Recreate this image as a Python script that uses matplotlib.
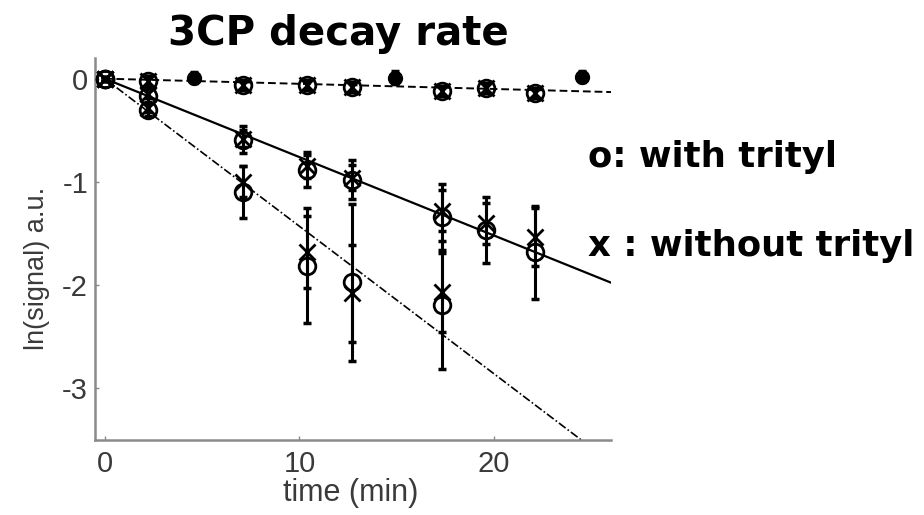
import matplotlib
matplotlib.use("Agg")
import matplotlib.pyplot as plt
import numpy as np

plt.rcParams['font.family'] = ['Liberation Sans', 'DejaVu Sans']

# ---- data ----
t = [0, 2.2, 7.1, 10.4, 12.7, 17.3, 19.6, 22.1]
t_low = [0, 2.2, 7.1, 10.4, 12.7, 17.3]
t_dots = [4.6, 14.9, 24.5]

ref_o = [0, -0.02, -0.06, -0.06, -0.08, -0.12, -0.09, -0.14]
ref_x = [0, -0.02, -0.06, -0.06, -0.08, -0.12, -0.09, -0.14]
ref_err = [0.02, 0.05, 0.05, 0.05, 0.05, 0.05, 0.05, 0.05]
dots_y = [0.01, 0.01, 0.02]
dots_err = [0.05, 0.06, 0.05]

mid_o = [0, -0.17, -0.59, -0.88, -0.98, -1.34, -1.47, -1.68]
mid_x = [0, -0.15, -0.58, -0.85, -0.96, -1.28, -1.40, -1.53]
mid_err = [0.02, 0.06, 0.13, 0.17, 0.19, 0.32, 0.32, 0.45]
mid_err_x = [0.02, 0.04, 0.08, 0.11, 0.12, 0.20, 0.20, 0.28]

low_o = [0, -0.30, -1.10, -1.81, -1.97, -2.19]
low_x = [0, -0.28, -1.00, -1.68, -2.08, -2.07]
low_err = [0.02, 0.06, 0.25, 0.56, 0.76, 0.62]
low_err_x = [0.02, 0.04, 0.15, 0.35, 0.47, 0.38]

slope_ref = -0.005
slope_with = -0.076
slope_without = -0.143
t_fit = [0, 26]

xticks = [0, 10, 20]
yticks = [0, -1, -2, -3]

# ---- figure ----
W, H = 924, 515
fig = plt.figure(figsize=(W / 100, H / 100), dpi=100)
ax = fig.add_axes([95 / W, 1 - 440 / H, (611 - 95) / W, (440 - 58) / H])

tf = np.array(t_fit)
ax.plot(tf, slope_ref * tf, color='k', lw=1.4, ls=(0, (4, 2)), zorder=1)
ax.plot(tf, slope_with * tf, color='k', lw=1.6, ls='-', zorder=1)
ax.plot(tf, slope_without * tf, color='k', lw=1.2, ls=(0, (5, 1.5, 1, 1.5)), zorder=1)

ekw = dict(fmt='none', ecolor='k', elinewidth=2.2, capsize=3, capthick=2.5, zorder=2)
for tt, yy, ee in [(t, ref_o, ref_err), (t, mid_o, mid_err), (t, mid_x, mid_err_x),
                   (t_low, low_o, low_err), (t_low, low_x, low_err_x)]:
    ax.errorbar(tt, yy, yerr=ee, **ekw)
ax.errorbar(t_dots, dots_y, yerr=dots_err, **ekw)

okw = dict(ls='none', marker='o', ms=12, mfc='none', mec='k', mew=2, zorder=3)
xkw = dict(ls='none', marker='x', ms=11, mec='k', mew=2, zorder=3)
ax.plot(t, ref_o, **okw)
ax.plot(t, ref_x, **xkw)
ax.plot(t, mid_o, **okw)
ax.plot(t, mid_x, **xkw)
ax.plot(t_low, low_o, **okw)
ax.plot(t_low, low_x, **xkw)
ax.plot(t_dots, dots_y, ls='none', marker='o', ms=10, mfc='k', mec='k', zorder=3)

ax.set_xlim(-0.5, 26)
ax.set_ylim(-3.5, 0.2)
ax.set_xticks(xticks)
ax.set_yticks(yticks)
ax.set_xticklabels([str(v) for v in xticks])
ax.set_yticklabels([str(v) for v in yticks])
for s in ['top', 'right']:
    ax.spines[s].set_visible(False)
for s in ['left', 'bottom']:
    ax.spines[s].set_color('#8a8a8a')
    ax.spines[s].set_linewidth(1.8)
ax.tick_params(direction='in', length=3, width=1, color='#8a8a8a',
               labelsize=21, labelcolor='#3a3a3a')
ax.tick_params(axis='x', pad=7)
ax.tick_params(axis='y', pad=5)

fig.text(351 / W, 1 - 493 / H, 'time (min)', ha='center', va='center',
         fontsize=22, color='#3a3a3a')
fig.text(37 / W, 1 - 268 / H, 'ln(signal) a.u.', ha='center', va='center',
         rotation=90, fontsize=19.5, color='#3a3a3a')

bold = ['DejaVu Sans']
fig.text(168 / W, 1 - 45 / H, '3CP decay rate', ha='left', va='baseline',
         fontsize=29, fontweight='bold', family=bold)
fig.text(588 / W, 1 - 167 / H, 'o: with trityl', ha='left', va='baseline',
         fontsize=25.5, fontweight='bold', family=bold)
fig.text(588 / W, 1 - 256 / H, 'x : without trityl', ha='left', va='baseline',
         fontsize=25.5, fontweight='bold', family=bold)

fig.savefig('out.png', dpi=100)
